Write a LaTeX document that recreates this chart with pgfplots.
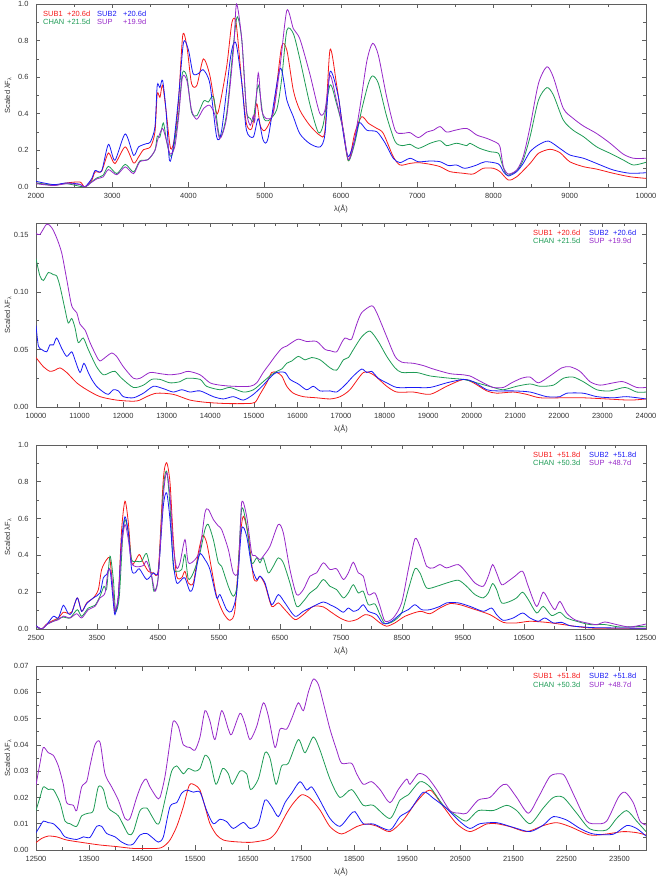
\documentclass[border=0pt]{standalone}
\usepackage{fontspec}
\setmainfont{Liberation Sans}
\usepackage{pgfplots}
\pgfplotsset{compat=1.18}
\definecolor{cred}{RGB}{245,25,25}
\definecolor{cblue}{RGB}{25,25,245}
\definecolor{cgreen}{RGB}{30,155,85}
\definecolor{cpurple}{RGB}{150,40,200}
\definecolor{axgray}{RGB}{95,95,95}
\newcommand{\lfont}{\fontsize{7.5}{9}\selectfont}
\pgfplotsset{
  spec/.style={
    scale only axis, width=610bp, height=184bp,
    anchor=south west,
    axis line style={axgray, line width=0.6bp},
    tick style={axgray, line width=0.6bp},
    tick align=inside, tick pos=both,
    major tick length=4.5bp, minor tick length=3bp,
    minor x tick num=1, minor y tick num=1,
    scaled x ticks=false, scaled y ticks=false,
    tick label style={font=\lfont, text=black!80},
    /pgf/number format/assume math mode=true,
    xticklabel style={/pgf/number format/.cd, fixed, 1000 sep={}, /tikz/.cd, yshift=-3bp},
    yticklabel style={xshift=-4bp},
    every axis x label/.style={at={(axis description cs:0.5,0)}, yshift=-22bp, anchor=center, font=\lfont, text=black!80},
    every axis y label/.style={at={(axis description cs:0,0.5)}, xshift=-28bp, rotate=90, anchor=center, font=\lfont, text=black!80},
    xlabel={λ(Å)}, ylabel={Scaled λF\textsubscript{λ}},
    every axis plot/.append style={line width=0.8bp, no markers, smooth, tension=0.45},
  },
  p1/.style={yticklabel style={/pgf/number format/.cd, fixed, fixed zerofill, precision=1}},
  p2/.style={yticklabel style={/pgf/number format/.cd, fixed, fixed zerofill, precision=2}},
}
\newcommand{\leg}[6]{% x1 x2 t1 t2 t3 t4
  \node[anchor=base west, text=cred, font=\lfont, inner sep=0pt] at ([xshift=#1, yshift=-12.5bp]rel axis cs:0,1) {#3};
  \node[anchor=base west, text=cblue, font=\lfont, inner sep=0pt] at ([xshift=#2, yshift=-12.5bp]rel axis cs:0,1) {#4};
  \node[anchor=base west, text=cgreen, font=\lfont, inner sep=0pt] at ([xshift=#1, yshift=-21bp]rel axis cs:0,1) {#5};
  \node[anchor=base west, text=cpurple, font=\lfont, inner sep=0pt] at ([xshift=#2, yshift=-21bp]rel axis cs:0,1) {#6};
}
\begin{document}
\begin{tikzpicture}
\useasboundingbox (0bp,0bp) rectangle (659bp,879bp);
% ---------------- Panel 1 ----------------
\begin{axis}[spec, p1, at={(36bp,692bp)}, height=183bp,
  xmin=2000, xmax=10000, ymin=0, ymax=1.0,
  xtick={2000,3000,...,10000}, ytick={0,0.2,0.4,0.6,0.8,1.0}]
\addplot[cred] coordinates {(2000,0.022) (2230,0.01) (2400,0.022) (2577,0.027) (2640,0.0) (2730,0.036) (2775,0.082) (2860,0.086) (2950,0.186) (3035,0.128) (3170,0.219) (3280,0.131) (3345,0.164) (3410,0.204) (3500,0.219) (3560,0.3) (3590,0.51) (3625,0.49) (3660,0.556) (3705,0.42) (3765,0.21) (3820,0.273) (3870,0.474) (3925,0.83) (3980,0.765) (4040,0.565) (4110,0.556) (4195,0.7) (4280,0.61) (4350,0.437) (4390,0.41) (4500,0.656) (4570,0.9) (4625,0.893) (4700,0.565) (4760,0.346) (4830,0.319) (4895,0.455) (4940,0.337) (5005,0.31) (5115,0.42) (5220,0.765) (5290,0.747) (5375,0.528) (5460,0.42) (5590,0.337) (5725,0.282) (5790,0.31) (5856,0.75) (5940,0.566) (6010,0.366) (6096,0.144) (6180,0.293) (6270,0.384) (6360,0.348) (6470,0.32) (6555,0.293) (6685,0.166) (6775,0.12) (6905,0.129) (7015,0.133) (7170,0.124) (7300,0.111) (7430,0.084) (7605,0.075) (7735,0.071) (7865,0.102) (8000,0.102) (8085,0.084) (8195,0.038) (8305,0.056) (8480,0.129) (8590,0.184) (8740,0.206) (8870,0.188) (9000,0.138) (9180,0.111) (9350,0.098) (9570,0.075) (9790,0.056) (10000,0.047)};
\addplot[cgreen] coordinates {(2000,0.022) (2230,0.01) (2400,0.018) (2640,0.0) (2710,0.022) (2800,0.05) (2880,0.064) (2950,0.113) (3060,0.073) (3170,0.124) (3280,0.082) (3360,0.142) (3470,0.15) (3560,0.2) (3590,0.277) (3625,0.273) (3670,0.35) (3710,0.255) (3760,0.168) (3800,0.2) (3870,0.4) (3920,0.623) (3980,0.6) (4040,0.41) (4110,0.39) (4200,0.47) (4260,0.464) (4330,0.49) (4410,0.273) (4500,0.4) (4590,0.78) (4640,0.93) (4700,0.8) (4760,0.42) (4810,0.375) (4850,0.366) (4915,0.556) (4980,0.384) (5045,0.362) (5155,0.42) (5220,0.583) (5290,0.856) (5375,0.838) (5460,0.7) (5590,0.455) (5700,0.3) (5765,0.337) (5856,0.557) (5940,0.457) (6030,0.31) (6096,0.144) (6180,0.239) (6270,0.42) (6360,0.566) (6415,0.607) (6490,0.566) (6600,0.384) (6710,0.248) (6800,0.226) (6905,0.233) (7015,0.211) (7170,0.239) (7300,0.253) (7385,0.226) (7515,0.239) (7650,0.226) (7690,0.239) (7820,0.211) (7955,0.193) (8065,0.184) (8110,0.129) (8175,0.066) (8305,0.089) (8390,0.148) (8480,0.275) (8590,0.475) (8700,0.543) (8785,0.503) (8915,0.366) (9045,0.31) (9180,0.275) (9350,0.22) (9530,0.184) (9700,0.148) (9835,0.12) (10000,0.135)};
\addplot[cblue] coordinates {(2000,0.031) (2230,0.013) (2400,0.022) (2577,0.015) (2640,0.0) (2730,0.045) (2775,0.09) (2860,0.087) (2950,0.233) (3035,0.146) (3170,0.29) (3280,0.173) (3345,0.219) (3450,0.237) (3500,0.246) (3560,0.328) (3590,0.556) (3625,0.543) (3660,0.583) (3705,0.42) (3750,0.146) (3800,0.219) (3870,0.49) (3935,0.79) (4000,0.747) (4060,0.62) (4130,0.62) (4195,0.64) (4280,0.565) (4370,0.273) (4435,0.31) (4545,0.69) (4590,0.783) (4630,0.774) (4700,0.565) (4760,0.31) (4850,0.273) (4915,0.373) (4980,0.255) (5045,0.27) (5200,0.647) (5290,0.474) (5375,0.384) (5460,0.291) (5590,0.237) (5725,0.219) (5790,0.29) (5856,0.63) (5965,0.494) (6030,0.293) (6096,0.166) (6180,0.257) (6240,0.352) (6340,0.31) (6470,0.302) (6580,0.239) (6685,0.157) (6775,0.133) (6905,0.157) (7015,0.138) (7170,0.142) (7300,0.138) (7410,0.117) (7515,0.12) (7625,0.102) (7780,0.12) (7890,0.138) (8065,0.126) (8130,0.084) (8195,0.06) (8305,0.084) (8390,0.129) (8480,0.193) (8590,0.23) (8720,0.251) (8870,0.211) (9000,0.175) (9180,0.157) (9350,0.129) (9570,0.093) (9790,0.075) (10000,0.078)};
\addplot[cpurple] coordinates {(2000,0.018) (2230,0.008) (2400,0.018) (2580,0.013) (2640,0.0) (2710,0.02) (2800,0.045) (2880,0.055) (2950,0.095) (3060,0.067) (3170,0.11) (3280,0.073) (3360,0.137) (3470,0.15) (3560,0.2) (3600,0.264) (3660,0.32) (3710,0.255) (3760,0.18) (3820,0.22) (3870,0.38) (3920,0.6) (3980,0.58) (4040,0.42) (4110,0.37) (4200,0.43) (4280,0.446) (4350,0.39) (4410,0.264) (4500,0.38) (4590,0.75) (4630,1.0) (4700,0.8) (4760,0.42) (4810,0.337) (4850,0.39) (4870,0.364) (4915,0.623) (4960,0.42) (5025,0.373) (5110,0.4) (5200,0.656) (5290,0.965) (5375,0.865) (5460,0.81) (5590,0.62) (5720,0.404) (5790,0.42) (5856,0.61) (5940,0.475) (6030,0.31) (6096,0.15) (6160,0.22) (6250,0.44) (6340,0.69) (6415,0.785) (6490,0.72) (6600,0.49) (6710,0.31) (6800,0.293) (6905,0.297) (7015,0.27) (7125,0.3) (7210,0.31) (7300,0.33) (7385,0.3) (7495,0.31) (7650,0.32) (7780,0.284) (7910,0.266) (8040,0.242) (8085,0.22) (8130,0.11) (8195,0.071) (8305,0.093) (8390,0.166) (8480,0.33) (8590,0.566) (8700,0.657) (8785,0.6) (8915,0.43) (9045,0.375) (9180,0.333) (9350,0.293) (9530,0.239) (9700,0.18) (9835,0.157) (10000,0.157)};
\leg{7bp}{61bp}{\makebox[24bp][l]{SUB1}+20.6d}{\makebox[26bp][l]{SUB2}+20.6d}{\makebox[24bp][l]{CHAN}+21.5d}{\makebox[26bp][l]{SUP}+19.9d}
\end{axis}
% ---------------- Panel 2 ----------------
\begin{axis}[spec, p2, at={(36bp,472bp)},
  xmin=10000, xmax=24000, ymin=0, ymax=0.16,
  xtick={10000,11000,...,24000}, ytick={0,0.05,0.1,0.15}]
\addplot[cred] coordinates {(10000,0.043) (10170,0.035) (10320,0.031) (10435,0.032) (10550,0.034) (10705,0.03) (10935,0.021) (11165,0.015) (11470,0.009) (11850,0.006) (12235,0.005) (12385,0.006) (12540,0.009) (12770,0.012) (13150,0.011) (13535,0.006) (13915,0.004) (14375,0.003) (14835,0.003) (15025,0.004) (15140,0.011) (15295,0.021) (15410,0.03) (15525,0.03) (15640,0.027) (15755,0.018) (15905,0.012) (16135,0.009) (16440,0.008) (16750,0.007) (16980,0.009) (17205,0.015) (17515,0.03) (17745,0.028) (18050,0.018) (18280,0.013) (18660,0.013) (19045,0.011) (19425,0.018) (19810,0.024) (20040,0.021) (20345,0.014) (20575,0.012) (20955,0.013) (21260,0.011) (21570,0.008) (22105,0.008) (22560,0.008) (23095,0.007) (23635,0.006) (24000,0.007)};
\addplot[cgreen] coordinates {(10000,0.129) (10090,0.114) (10170,0.11) (10285,0.117) (10400,0.115) (10475,0.114) (10550,0.105) (10665,0.085) (10740,0.073) (10820,0.077) (10895,0.069) (10970,0.056) (11085,0.06) (11200,0.05) (11390,0.035) (11545,0.028) (11700,0.03) (11815,0.031) (11965,0.025) (12235,0.017) (12465,0.019) (12655,0.024) (12845,0.024) (13075,0.021) (13305,0.022) (13460,0.025) (13765,0.024) (13915,0.018) (14225,0.015) (14450,0.017) (14760,0.013) (14990,0.015) (15215,0.022) (15370,0.027) (15525,0.031) (15640,0.033) (15755,0.038) (15870,0.04) (16020,0.044) (16175,0.041) (16325,0.043) (16520,0.041) (16750,0.034) (16900,0.032) (17055,0.041) (17170,0.043) (17285,0.05) (17475,0.061) (17665,0.066) (17855,0.057) (18050,0.044) (18240,0.034) (18395,0.03) (18735,0.03) (19045,0.027) (19500,0.025) (19810,0.024) (20115,0.021) (20495,0.017) (20725,0.015) (21030,0.018) (21340,0.02) (21570,0.018) (21875,0.019) (22105,0.025) (22330,0.026) (22560,0.022) (22870,0.015) (23175,0.014) (23520,0.017) (23785,0.013) (24000,0.013)};
\addplot[cblue] coordinates {(10000,0.071) (10055,0.053) (10130,0.05) (10245,0.048) (10320,0.054) (10400,0.054) (10475,0.06) (10590,0.051) (10705,0.044) (10820,0.048) (10895,0.041) (11010,0.03) (11100,0.038) (11200,0.03) (11280,0.024) (11390,0.018) (11545,0.013) (11660,0.011) (11775,0.015) (11890,0.014) (12005,0.009) (12235,0.008) (12465,0.012) (12695,0.018) (12920,0.016) (13150,0.013) (13345,0.015) (13535,0.013) (13765,0.014) (14070,0.009) (14300,0.007) (14530,0.009) (14760,0.006) (14990,0.011) (15215,0.019) (15410,0.027) (15525,0.03) (15715,0.03) (15830,0.024) (16020,0.02) (16210,0.015) (16365,0.018) (16520,0.014) (16750,0.014) (16900,0.013) (17090,0.019) (17285,0.027) (17475,0.033) (17590,0.03) (17705,0.031) (17855,0.025) (18050,0.021) (18280,0.017) (18660,0.017) (19045,0.017) (19425,0.021) (19810,0.024) (20040,0.022) (20345,0.015) (20575,0.014) (20955,0.014) (21340,0.013) (21720,0.009) (22025,0.009) (22180,0.012) (22560,0.012) (22870,0.009) (23250,0.008) (23555,0.009) (24000,0.007)};
\addplot[cpurple] coordinates {(10000,0.151) (10090,0.15) (10245,0.159) (10360,0.156) (10475,0.147) (10590,0.134) (10705,0.111) (10820,0.088) (10935,0.082) (11010,0.072) (11125,0.067) (11240,0.056) (11390,0.044) (11470,0.04) (11620,0.044) (11740,0.047) (11850,0.044) (12005,0.035) (12235,0.025) (12390,0.025) (12615,0.03) (12845,0.029) (13075,0.028) (13305,0.029) (13495,0.031) (13765,0.028) (13995,0.021) (14225,0.019) (14530,0.018) (14910,0.018) (15065,0.021) (15215,0.03) (15370,0.038) (15485,0.044) (15640,0.051) (15755,0.053) (15870,0.056) (16020,0.059) (16210,0.057) (16440,0.057) (16635,0.05) (16750,0.049) (16900,0.048) (17015,0.056) (17090,0.06) (17170,0.059) (17245,0.059) (17360,0.072) (17475,0.082) (17705,0.088) (17820,0.082) (18050,0.061) (18240,0.044) (18395,0.039) (18660,0.038) (18890,0.036) (19120,0.033) (19500,0.029) (19810,0.028) (19960,0.027) (20265,0.021) (20495,0.017) (20725,0.017) (20915,0.021) (21145,0.025) (21340,0.026) (21530,0.021) (21795,0.027) (22065,0.034) (22255,0.035) (22485,0.031) (22715,0.022) (22945,0.019) (23250,0.021) (23480,0.022) (23785,0.017) (24000,0.017)};
\leg{497bp}{553bp}{\makebox[24bp][l]{SUB1}+20.6d}{\makebox[24bp][l]{SUB2}+20.6d}{\makebox[24bp][l]{CHAN}+21.5d}{\makebox[19bp][l]{SUP}+19.9d}
\end{axis}
% ---------------- Panel 3 ----------------
\begin{axis}[spec, p1, at={(36bp,250bp)},
  xmin=2500, xmax=12500, ymin=0, ymax=1.0,
  xtick={2500,3500,...,12500}, ytick={0,0.2,0.4,0.6,0.8,1.0}]
\addplot[cred] coordinates {(2500,0.015) (2593,0.0) (2675,0.027) (2784,0.047) (2866,0.06) (2948,0.091) (3003,0.087) (3085,0.091) (3177,0.169) (3249,0.096) (3331,0.142) (3440,0.169) (3522,0.214) (3576,0.323) (3658,0.377) (3713,0.377) (3768,0.178) (3795,0.091) (3850,0.178) (3904,0.541) (3959,0.695) (4014,0.577) (4068,0.36) (4123,0.368) (4194,0.405) (4259,0.36) (4341,0.314) (4423,0.305) (4505,0.323) (4587,0.813) (4642,0.904) (4697,0.795) (4751,0.486) (4806,0.287) (4888,0.278) (4942,0.314) (4997,0.25) (5079,0.25) (5161,0.414) (5232,0.508) (5298,0.468) (5380,0.323) (5462,0.178) (5571,0.087) (5680,0.047) (5762,0.105) (5844,0.486) (5899,0.613) (5981,0.505) (6062,0.287) (6117,0.26) (6172,0.287) (6254,0.241) (6363,0.123) (6472,0.142) (6581,0.105) (6745,0.051) (6882,0.078) (7046,0.123) (7210,0.12) (7319,0.096) (7483,0.06) (7620,0.042) (7756,0.051) (7893,0.078) (8002,0.069) (8139,0.033) (8248,0.015) (8384,0.033) (8548,0.069) (8794,0.096) (8958,0.083) (9122,0.114) (9286,0.138) (9450,0.132) (9668,0.109) (9942,0.078) (10160,0.036) (10379,0.033) (10597,0.042) (10871,0.036) (11144,0.024) (11417,0.011) (11690,0.004) (12500,0.004)};
\addplot[cgreen] coordinates {(2500,0.011) (2593,0.0) (2675,0.024) (2784,0.042) (2866,0.054) (2948,0.065) (3057,0.06) (3177,0.105) (3249,0.069) (3358,0.114) (3467,0.129) (3549,0.178) (3615,0.232) (3658,0.218) (3713,0.396) (3768,0.269) (3806,0.096) (3866,0.178) (3921,0.5) (3959,0.595) (4014,0.523) (4068,0.377) (4150,0.368) (4232,0.368) (4314,0.41) (4396,0.287) (4434,0.205) (4505,0.287) (4587,0.759) (4642,0.858) (4697,0.668) (4751,0.341) (4806,0.314) (4888,0.323) (4942,0.405) (4997,0.272) (5079,0.305) (5188,0.414) (5270,0.541) (5325,0.568) (5407,0.486) (5489,0.36) (5543,0.341) (5653,0.232) (5735,0.178) (5800,0.25) (5871,0.65) (5953,0.559) (6035,0.36) (6117,0.387) (6172,0.36) (6226,0.387) (6308,0.305) (6390,0.341) (6472,0.387) (6554,0.36) (6663,0.25) (6773,0.123) (6882,0.15) (6991,0.196) (7100,0.223) (7210,0.269) (7319,0.232) (7428,0.214) (7538,0.169) (7620,0.196) (7701,0.241) (7783,0.196) (7865,0.205) (7947,0.132) (8057,0.136) (8139,0.078) (8221,0.029) (8357,0.042) (8494,0.087) (8603,0.214) (8712,0.327) (8794,0.305) (8904,0.223) (9068,0.232) (9232,0.25) (9423,0.265) (9559,0.232) (9696,0.187) (9832,0.169) (9914,0.196) (9985,0.247) (10051,0.214) (10133,0.142) (10270,0.15) (10379,0.169) (10477,0.2) (10570,0.16) (10707,0.087) (10816,0.123) (10952,0.073) (11089,0.091) (11198,0.06) (11362,0.042) (11581,0.024) (11827,0.024) (12073,0.011) (12500,0.015)};
\addplot[cblue] coordinates {(2500,0.018) (2593,0.0) (2675,0.024) (2784,0.069) (2866,0.06) (2948,0.129) (3030,0.083) (3085,0.087) (3177,0.169) (3249,0.096) (3331,0.138) (3440,0.169) (3549,0.196) (3604,0.278) (3658,0.296) (3713,0.323) (3768,0.142) (3795,0.078) (3850,0.178) (3904,0.486) (3959,0.61) (4014,0.523) (4068,0.323) (4123,0.305) (4194,0.327) (4314,0.269) (4423,0.305) (4505,0.314) (4587,0.668) (4642,0.74) (4697,0.595) (4751,0.36) (4806,0.25) (4888,0.269) (4942,0.278) (5024,0.205) (5079,0.232) (5177,0.405) (5270,0.377) (5352,0.323) (5462,0.169) (5516,0.187) (5625,0.105) (5707,0.096) (5789,0.196) (5871,0.541) (5953,0.505) (6035,0.341) (6117,0.269) (6172,0.287) (6254,0.25) (6363,0.132) (6472,0.187) (6581,0.142) (6745,0.069) (6882,0.096) (7046,0.123) (7210,0.147) (7319,0.132) (7428,0.114) (7538,0.091) (7620,0.114) (7701,0.096) (7783,0.105) (7865,0.132) (7947,0.096) (8084,0.078) (8193,0.029) (8330,0.042) (8494,0.087) (8603,0.105) (8712,0.132) (8822,0.105) (8958,0.105) (9122,0.123) (9232,0.142) (9423,0.142) (9614,0.123) (9832,0.096) (9969,0.114) (10051,0.078) (10160,0.047) (10324,0.06) (10477,0.087) (10597,0.06) (10734,0.042) (10843,0.06) (10980,0.033) (11117,0.036) (11253,0.018) (11472,0.011) (11690,0.007) (12500,0.004)};
\addplot[cpurple] coordinates {(2500,0.015) (2593,0.0) (2675,0.024) (2784,0.042) (2866,0.05) (2948,0.07) (3057,0.06) (3167,0.083) (3249,0.06) (3358,0.105) (3467,0.123) (3549,0.169) (3631,0.196) (3686,0.323) (3740,0.287) (3795,0.105) (3850,0.178) (3904,0.45) (3959,0.568) (4014,0.486) (4068,0.36) (4150,0.338) (4259,0.345) (4314,0.368) (4396,0.287) (4451,0.205) (4505,0.287) (4587,0.722) (4642,0.85) (4697,0.722) (4751,0.45) (4806,0.332) (4861,0.36) (4942,0.486) (4997,0.36) (5106,0.377) (5188,0.432) (5270,0.632) (5325,0.65) (5407,0.595) (5489,0.56) (5543,0.541) (5653,0.432) (5735,0.305) (5817,0.323) (5871,0.686) (5953,0.613) (6035,0.414) (6090,0.4) (6172,0.377) (6226,0.396) (6336,0.45) (6472,0.568) (6554,0.523) (6663,0.323) (6773,0.187) (6882,0.214) (6991,0.287) (7100,0.305) (7210,0.36) (7319,0.323) (7428,0.327) (7538,0.269) (7620,0.305) (7701,0.363) (7783,0.305) (7865,0.287) (7947,0.187) (8057,0.196) (8139,0.123) (8221,0.042) (8357,0.06) (8494,0.142) (8603,0.323) (8712,0.49) (8794,0.45) (8904,0.341) (9013,0.332) (9122,0.35) (9232,0.332) (9423,0.35) (9559,0.305) (9696,0.25) (9832,0.232) (9914,0.287) (9985,0.35) (10051,0.305) (10133,0.241) (10242,0.26) (10352,0.287) (10477,0.314) (10570,0.232) (10707,0.123) (10816,0.2) (10925,0.142) (11007,0.105) (11089,0.15) (11198,0.087) (11335,0.05) (11526,0.033) (11690,0.024) (11827,0.038) (12018,0.024) (12237,0.011) (12500,0.027)};
\leg{497bp}{553bp}{\makebox[24bp][l]{SUB1}+51.8d}{\makebox[24bp][l]{SUB2}+51.8d}{\makebox[24bp][l]{CHAN}+50.3d}{\makebox[19bp][l]{SUP}+48.7d}
\end{axis}
% ---------------- Panel 4 ----------------
\begin{axis}[spec, p2, at={(36bp,29bp)},
  xmin=12500, xmax=24000, ymin=0, ymax=0.07,
  xtick={12500,13500,...,23500}, ytick={0,0.01,0.02,0.03,0.04,0.05,0.06,0.07}]
\addplot[cred] coordinates {(12500,0.0028) (12607,0.0044) (12732,0.0053) (12890,0.005) (13078,0.0038) (13392,0.0028) (13707,0.0019) (14021,0.0013) (14335,0.0006) (14775,0.0006) (14901,0.0013) (15026,0.0038) (15152,0.0089) (15278,0.0165) (15391,0.0247) (15497,0.0247) (15592,0.0228) (15686,0.0165) (15780,0.01) (15906,0.0057) (16032,0.0038) (16220,0.0032) (16534,0.0029) (16786,0.0036) (16911,0.0044) (17037,0.007) (17226,0.014) (17351,0.0178) (17508,0.021) (17665,0.0197) (17854,0.0152) (18042,0.0089) (18262,0.0061) (18545,0.0089) (18733,0.0099) (18921,0.0091) (19173,0.007) (19425,0.0114) (19676,0.0184) (19927,0.0228) (20179,0.0165) (20430,0.01) (20681,0.007) (20995,0.0099) (21184,0.01) (21435,0.0089) (21750,0.007) (22064,0.0093) (22315,0.0104) (22566,0.0089) (22944,0.0057) (23258,0.0061) (23572,0.007) (23823,0.0066) (24000,0.0057)};
\addplot[cgreen] coordinates {(12500,0.015) (12575,0.02) (12638,0.024) (12732,0.023) (12827,0.023) (12952,0.018) (13047,0.011) (13141,0.01) (13267,0.009) (13361,0.013) (13487,0.014) (13581,0.015) (13675,0.024) (13770,0.023) (13864,0.016) (14052,0.013) (14241,0.006) (14335,0.007) (14461,0.015) (14586,0.016) (14681,0.013) (14775,0.01) (14838,0.011) (14964,0.022) (15058,0.03) (15152,0.032) (15278,0.029) (15372,0.031) (15497,0.03) (15592,0.031) (15686,0.036) (15780,0.034) (15893,0.025) (16019,0.031) (16126,0.029) (16201,0.025) (16346,0.03) (16471,0.029) (16547,0.023) (16691,0.027) (16817,0.037) (16911,0.035) (17025,0.025) (17131,0.032) (17257,0.033) (17445,0.042) (17571,0.037) (17728,0.043) (17854,0.038) (18042,0.027) (18230,0.02) (18450,0.023) (18670,0.017) (18859,0.017) (19173,0.012) (19362,0.019) (19519,0.021) (19739,0.026) (19927,0.024) (20179,0.017) (20430,0.013) (20619,0.011) (20838,0.015) (21121,0.015) (21373,0.017) (21562,0.015) (21813,0.01) (22064,0.016) (22253,0.02) (22441,0.02) (22693,0.014) (22944,0.008) (23258,0.0076) (23446,0.012) (23635,0.015) (23823,0.011) (24000,0.007)};
\addplot[cblue] coordinates {(12500,0.0066) (12575,0.009) (12638,0.011) (12732,0.0104) (12827,0.01) (12952,0.0076) (13047,0.005) (13267,0.004) (13392,0.005) (13518,0.0048) (13644,0.009) (13738,0.009) (13832,0.0063) (13989,0.005) (14115,0.003) (14241,0.0019) (14335,0.0023) (14461,0.0057) (14586,0.0063) (14712,0.0044) (14806,0.003) (14901,0.005) (15026,0.0165) (15152,0.018) (15246,0.0216) (15341,0.0228) (15466,0.022) (15592,0.022) (15717,0.015) (15843,0.01) (15969,0.0117) (16094,0.0108) (16220,0.0082) (16409,0.0105) (16534,0.0082) (16691,0.01) (16817,0.019) (16943,0.0165) (17069,0.0127) (17194,0.018) (17320,0.0216) (17477,0.026) (17602,0.0228) (17697,0.024) (17823,0.02) (18042,0.012) (18230,0.009) (18419,0.0133) (18513,0.0146) (18670,0.01) (18859,0.0099) (19173,0.0076) (19362,0.0127) (19550,0.0152) (19802,0.022) (19990,0.0197) (20241,0.0158) (20493,0.0108) (20681,0.0082) (20870,0.01) (21184,0.0104) (21498,0.0086) (21813,0.007) (22064,0.0095) (22253,0.0127) (22504,0.0114) (22755,0.0082) (23006,0.0061) (23383,0.006) (23635,0.0093) (23823,0.0082) (24000,0.0053)};
\addplot[cpurple] coordinates {(12500,0.0247) (12575,0.033) (12638,0.039) (12732,0.037) (12827,0.036) (12921,0.032) (13015,0.025) (13078,0.018) (13204,0.017) (13267,0.015) (13361,0.024) (13455,0.026) (13518,0.032) (13612,0.04) (13707,0.041) (13801,0.029) (13927,0.024) (14052,0.019) (14178,0.012) (14272,0.012) (14398,0.02) (14492,0.025) (14574,0.027) (14649,0.024) (14775,0.02) (14838,0.02) (14932,0.028) (15026,0.041) (15089,0.049) (15183,0.047) (15278,0.04) (15403,0.039) (15497,0.038) (15592,0.043) (15686,0.053) (15780,0.049) (15874,0.042) (16000,0.053) (16126,0.046) (16189,0.044) (16346,0.052) (16440,0.048) (16534,0.042) (16660,0.047) (16786,0.056) (16880,0.051) (17006,0.039) (17100,0.046) (17226,0.046) (17320,0.05) (17445,0.056) (17540,0.053) (17634,0.06) (17728,0.065) (17823,0.063) (17917,0.056) (18042,0.046) (18168,0.038) (18262,0.033) (18450,0.033) (18545,0.029) (18670,0.025) (18828,0.026) (18985,0.023) (19173,0.018) (19330,0.023) (19487,0.027) (19550,0.025) (19707,0.029) (19864,0.028) (20053,0.023) (20304,0.015) (20493,0.014) (20619,0.014) (20838,0.019) (21058,0.02) (21247,0.024) (21373,0.025) (21562,0.02) (21781,0.014) (21970,0.02) (22190,0.028) (22378,0.029) (22472,0.028) (22661,0.02) (22881,0.011) (23069,0.01) (23258,0.011) (23478,0.02) (23604,0.022) (23760,0.018) (23886,0.011) (24000,0.0095)};
\leg{497bp}{553bp}{\makebox[24bp][l]{SUB1}+51.8d}{\makebox[24bp][l]{SUB2}+51.8d}{\makebox[24bp][l]{CHAN}+50.3d}{\makebox[19bp][l]{SUP}+48.7d}
\end{axis}
\end{tikzpicture}
\end{document}
